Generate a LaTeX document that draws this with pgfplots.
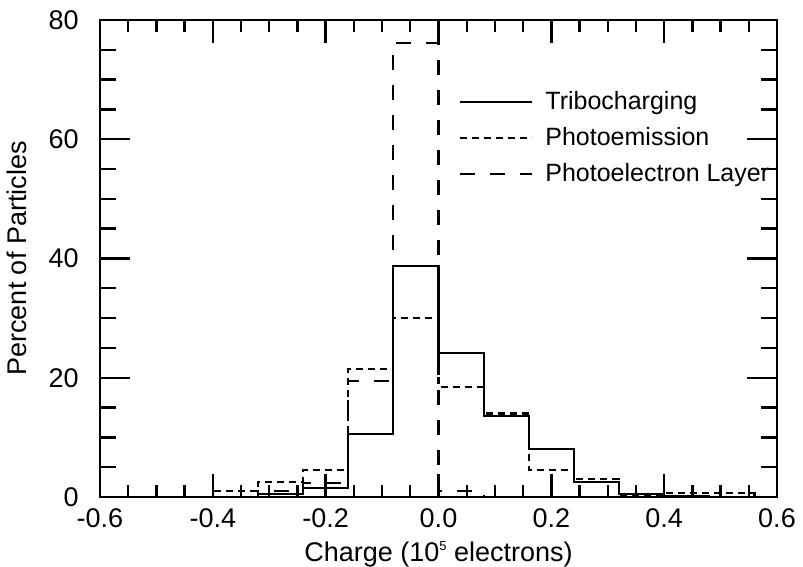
\documentclass[border=0pt]{standalone}
\usepackage{fontspec}
\setmainfont{Liberation Sans}
\usepackage{pgfplots}
\pgfplotsset{compat=1.18}
\usetikzlibrary{calc}
\newcommand{\fs}{\fontsize{13.5}{16}\selectfont}
\begin{document}
\begin{tikzpicture}
\begin{axis}[
  name=ax,
  scale only axis,
  width=338.5pt, height=238.5pt,
  xmin=-0.6, xmax=0.6, ymin=0, ymax=80,
  xtick={-0.6,-0.4,-0.2,0,0.2,0.4,0.6},
  ytick={0,20,40,60,80},
  minor x tick num=3, minor y tick num=3,
  tick align=inside,
  major tick length=15pt, minor tick length=8pt,
  xtick style={/pgfplots/major tick length=11.5pt, /pgfplots/minor tick length=6pt},
  every tick/.style={black, line width=1.2pt},
  axis line style={line width=1.3pt},
  /pgf/number format/assume math mode=true,
  font=\fs,
  tick label style={font=\fs, inner sep=0.5pt},
  xticklabel style={/pgf/number format/.cd, fixed, fixed zerofill, precision=1, /tikz/.cd, yshift=-5pt},
  yticklabel style={xshift=-10pt},
  label style={font=\fs},
  xlabel={Charge (10\raisebox{0.75ex}{\fontsize{6.5}{7}\selectfont 5} electrons)},
  ylabel={Percent of Particles},
  xlabel style={yshift=-3pt},
  ylabel style={yshift=7pt},
  legend style={draw=none, fill=none, at={(0.53,0.86)}, anchor=north west,
    font=\fontsize{12.5}{14}\selectfont, row sep=3.5pt, inner sep=0pt,
    /tikz/every odd column/.append style={column sep=4pt}},
  legend cell align=left,
  legend image code/.code={\draw[#1] (0pt,0pt) -- (36pt,0pt);},
]
\addplot[const plot, black, line width=1.1pt] coordinates {
(-0.60,0) (-0.56,0) (-0.48,0) (-0.40,0) (-0.32,0.5) (-0.24,1.5) (-0.16,10.5)
(-0.08,38.8) (0.00,24.1) (0.08,13.6) (0.16,8.0) (0.24,2.5) (0.32,0.5)
(0.40,0.1) (0.48,0) (0.56,0) (0.60,0)};
\addlegendentry{Tribocharging}
\addplot[const plot, black, line width=1.1pt, dash pattern=on 3.5pt off 2.5pt] coordinates {
(-0.60,0) (-0.56,0) (-0.48,0) (-0.40,1.0) (-0.32,2.5) (-0.24,4.5) (-0.16,21.5)
(-0.08,30.0) (0.00,18.5) (0.08,14.0) (0.16,4.5) (0.24,3.0) (0.32,0.3)
(0.40,0.6) (0.48,0.6) (0.56,0) (0.60,0)};
\addlegendentry{Photoemission}
\addplot[const plot, black, line width=1.1pt, dash pattern=on 7.5pt off 7.5pt] coordinates {
(-0.60,0) (-0.56,0) (-0.48,0) (-0.40,0) (-0.32,1.0) (-0.24,2.4) (-0.16,19.5)
(-0.08,76.2) (0.00,1.0) (0.08,0) (0.16,0) (0.24,0) (0.32,0)
(0.40,0) (0.48,0) (0.56,0) (0.60,0)};
\addlegendentry{Photoelectron Layer}
\coordinate (bl) at (rel axis cs:0,0);
\coordinate (tr) at (rel axis cs:1,1);
\end{axis}
\pgfresetboundingbox
\path ($(bl)+(-50pt,-35pt)$) rectangle ($(tr)+(13pt,10pt)$);
\end{tikzpicture}
\end{document}
